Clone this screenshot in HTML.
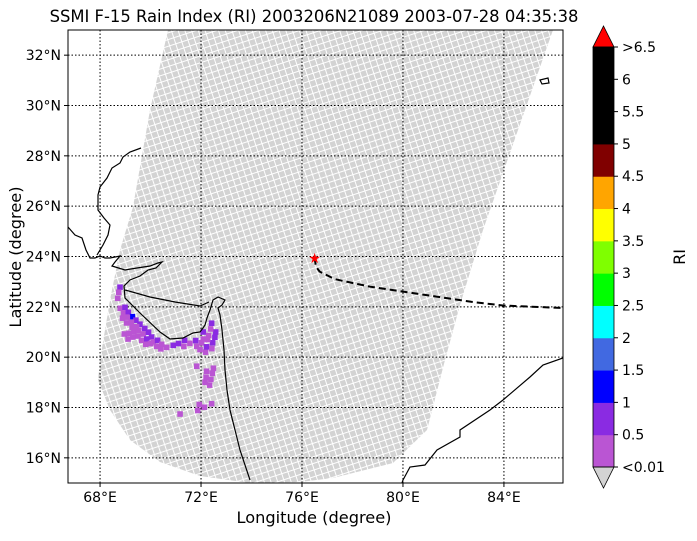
<!DOCTYPE html>
<html><head><meta charset="utf-8"><style>
body{margin:0;background:#fff;}
svg text{font-family:"DejaVu Sans","Liberation Sans",sans-serif;fill:#000;}
</style></head><body>
<svg id="chart" width="697" height="536" viewBox="0 0 697 536" xmlns="http://www.w3.org/2000/svg">
<defs>
<pattern id="pix" width="6.4" height="6.4" patternUnits="userSpaceOnUse" patternTransform="rotate(-18)">
<rect x="0.5" y="0.5" width="5.4" height="5.4" fill="#d3d3d3"/>
</pattern>
<clipPath id="plotclip"><rect x="68" y="30" width="495" height="453"/></clipPath>
</defs>
<text x="314" y="22" font-size="16.4" text-anchor="middle">SSMI F-15 Rain Index (RI) 2003206N21089 2003-07-28 04:35:38</text>
<g clip-path="url(#plotclip)">
<path fill="url(#pix)" d="M168,30 L150,110 L133,207 L120,250 L110,300 L100,360 L98,380 L110,410 L130,440 L160,462 L200,476 L250,483 L300,482 L333,478 L393,463 L427,430 L445,360 L460,305 L483,230 L553,30 Z"/>
<g id="grid"></g>
<g id="rain"></g>
<g fill="none" stroke="#000" stroke-width="1.2">
<path d="M141,148 L130,152 L123,157 L120,163 L112,168 L107,178 L100,187 L98,195 L98,210 L104,218 L110,225 L108,235 L103,245 L97,255"/>
<path d="M68,227 L75,235 L82,238 L86,250 L90,258 L95,258 L100,256 L105,258 L110,258 L120,256 L115,262 L112,266 L125,270 L137,268 L150,266 L158,263 L162,262 L156,268 L148,270 L140,276 L130,280 L124,286 L125,298 L140,313 L160,332 L170,339 L183,338 L193,333 L200,332 L203,328 L205,325 L207,318 L210,310 L213,300 L218,297 L225,300 L222,305 L218,308 L220,315 L222,330 L224,350 L225,370 L227,390 L230,410 L235,430 L240,450 L245,465 L250,480"/>
<path d="M125,290 L150,297 L175,302 L200,306 L209,302"/>
<path d="M563,358 L543,365 L530,377 L503,400 L490,410 L460,430 L460,437 L437,450 L425,465 L410,467 L403,480 L402,483"/>
<path d="M540,80 L548,78 L549,83 L542,84 Z"/>
</g>
<path id="track" fill="none" stroke="#000" stroke-width="2" stroke-dasharray="7,4"/>
<text id="star" font-size="14" text-anchor="middle" style="fill:red">★</text>
</g>
<rect x="68" y="30" width="495" height="453" fill="none" stroke="#000" stroke-width="1"/>
<g id="axes"></g>
<text x="314" y="523" font-size="16.2" text-anchor="middle">Longitude (degree)</text>
<text transform="translate(21,257) rotate(-90)" font-size="16.2" text-anchor="middle">Latitude (degree)</text>
<g id="cbar"></g>
<text transform="translate(685,257) rotate(-90)" font-size="16" text-anchor="middle">RI</text>
</svg>
<script>
const NS="http://www.w3.org/2000/svg";
const xTicks=[68,72,76,80,84];
const yTicks=[16,18,20,22,24,26,28,30,32];
const rainLon=[68.79,68.74,68.70,68.80,68.99,68.93,69.12,69.28,68.89,69.08,69.42,69.05,69.24,69.58,68.96,69.15,69.34,69.53,69.77,69.11,69.30,69.50,69.71,69.92,69.27,69.45,69.65,69.85,70.04,70.11,70.28,69.81,70.00,70.24,70.44,70.41,70.64,70.90,71.11,71.32,71.35,71.56,71.79,71.83,72.02,71.96,72.18,72.22,72.43,72.46,72.55,72.58,72.42,72.09,72.30,72.09,72.38,72.26,71.83,72.49,72.22,72.45,72.20,72.39,72.16,72.34,71.93,72.13,72.42,71.87,71.17];
const rainLat=[22.78,22.58,22.34,21.94,21.98,21.76,21.78,21.61,21.55,21.59,21.47,21.36,21.39,21.31,20.92,20.95,21.02,21.07,21.14,20.72,20.80,20.84,20.92,20.99,21.19,21.21,20.67,20.72,20.80,20.61,20.67,20.51,20.54,20.43,20.51,20.33,20.39,20.47,20.54,20.43,20.67,20.55,20.66,20.43,20.57,20.30,20.20,20.41,20.34,20.57,20.79,21.00,21.35,21.00,20.86,20.72,21.12,20.70,19.64,19.56,19.44,19.36,19.20,19.12,19.00,18.89,18.12,18.01,18.15,17.88,17.74];
const rainRI=[0.7,0.3,0.3,0.3,0.7,0.3,0.7,1.2,0.3,0.3,0.7,0.3,0.3,0.7,0.3,0.3,0.3,0.3,0.7,0.3,0.3,0.3,0.3,0.7,0.3,0.3,0.3,0.7,0.7,0.3,0.7,0.3,0.3,0.3,0.3,0.3,0.3,0.7,0.7,0.3,0.7,0.3,0.7,0.3,0.3,0.3,0.3,0.7,0.3,0.7,0.7,0.7,0.7,0.7,0.3,0.3,0.3,0.3,0.3,0.3,0.3,0.3,0.3,0.3,0.3,0.3,0.3,0.3,0.3,0.3,0.3];
const trackLon=[76.5,76.55,76.7,77.3,78.7,80.7,82.7,84.0,86.4];
const trackLat=[23.95,23.6,23.4,23.1,22.8,22.5,22.2,22.05,21.95];
const cbLevels=[0.01,0.5,1,1.5,2,2.5,3,3.5,4,4.5,5,5.5,6,6.5];
const cbLabels=["<0.01","0.5","1","1.5","2","2.5","3","3.5","4","4.5","5","5.5","6",">6.5"];
const cbColors=["#ba55d3","#8a2be2","#0000ff","#4169e1","#00ffff","#00ff00","#7fff00","#ffff00","#ffa500","#800000","#000000","#000000","#000000"];
const lon0=66.73,lon1=86.34,lat0=15,lat1=33;
function X(lon){return 68+(lon-lon0)/(lon1-lon0)*495;}
function Y(lat){return 483-(lat-lat0)/(lat1-lat0)*453;}
function el(t,a,p){const e=document.createElementNS(NS,t);for(const k in a)e.setAttribute(k,a[k]);p.appendChild(e);return e;}
const grid=document.getElementById('grid'),axes=document.getElementById('axes');
xTicks.forEach(v=>{
 const l=el('line',{x1:X(v),x2:X(v),y1:30,y2:483,stroke:'#000','stroke-width':1,'stroke-dasharray':'1.5,2'},grid);
 
 
 const t=el('line',{x1:X(v),x2:X(v),y1:483,y2:487,stroke:'#000'},axes);
 
 
 const s=el('text',{x:X(v),y:502,'font-size':14,'text-anchor':'middle'},axes);s.textContent=v+'°E';
 
 
});
yTicks.forEach(v=>{
 const l=el('line',{x1:68,x2:563,y1:Y(v),y2:Y(v),stroke:'#000','stroke-width':1,'stroke-dasharray':'1.5,2'},grid);
 
 
 const t=el('line',{x1:64,x2:68,y1:Y(v),y2:Y(v),stroke:'#000'},axes);
 
 
 const s=el('text',{x:61,y:Y(v)+5,'font-size':14,'text-anchor':'end'},axes);s.textContent=v+'°N';
 
 
});
function colorFor(v){for(let i=cbLevels.length-2;i>=0;i--){if(v>=cbLevels[i])return cbColors[i];}return '#d3d3d3';}
const rain=document.getElementById('rain');
rainLon.forEach((lo,i)=>{
 const r=el('rect',{x:X(lo)-2.8,y:Y(rainLat[i])-2.8,width:5.6,height:5.6,fill:colorFor(rainRI[i])},rain);
 
 
});
document.getElementById('track').setAttribute('d',trackLon.map((lo,i)=>(i?'L':'M')+X(lo)+','+Y(trackLat[i])).join(' '));
const st=document.getElementById('star');st.setAttribute('x',X(trackLon[0]));st.setAttribute('y',Y(trackLat[0])+5);
const cb=document.getElementById('cbar');
const cx=593,cw=21,ctop=47,cbot=467,n=cbColors.length,seg=(cbot-ctop)/n;
function CY(i){return cbot-i*seg;}
cbColors.forEach((c,i)=>{
 const r=el('rect',{x:cx,y:CY(i+1),width:cw,height:seg+0.5,fill:c},cb);
 
 
});
const up=el('polygon',{points:`${cx},${ctop} ${cx+cw},${ctop} ${cx+cw/2},${ctop-21}`,fill:'#ff0000',stroke:'#000','stroke-width':0.8},cb);


const dn=el('polygon',{points:`${cx},${cbot} ${cx+cw},${cbot} ${cx+cw/2},${cbot+21}`,fill:'#d3d3d3',stroke:'#000','stroke-width':0.8},cb);


el('rect',{x:cx,y:ctop,width:cw,height:cbot-ctop,fill:'none',stroke:'#000','stroke-width':0.8},cb);
cbLabels.forEach((lab,i)=>{
 el('line',{x1:cx+cw,x2:cx+cw+4,y1:CY(i),y2:CY(i),stroke:'#000'},cb);
 const t=el('text',{x:cx+cw+8,y:CY(i)+5,'font-size':14},cb);t.textContent=lab;
 
 
});
</script>
</body></html>
